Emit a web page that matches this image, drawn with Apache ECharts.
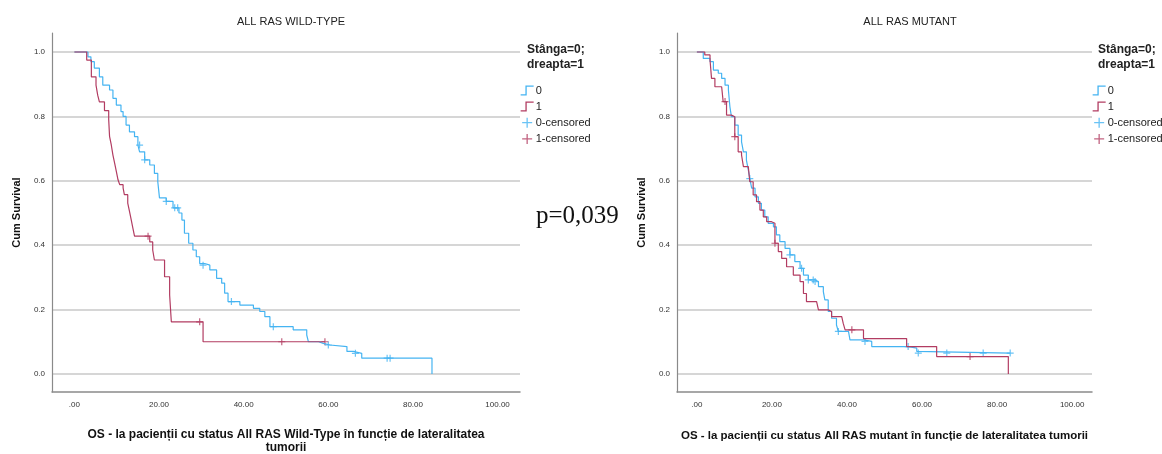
<!DOCTYPE html>
<html>
<head>
<meta charset="utf-8">
<title>OS - All RAS</title>
<script src="https://cdn.jsdelivr.net/npm/echarts@6.0.0/dist/echarts.min.js"></script>
<style>
  html, body { margin: 0; padding: 0; background: #fff; }
  #chart { width: 1162px; height: 454px; }
</style>
</head>
<body>
<div id="chart"></div>
<script>
// tick values
const xTicks = [0, 20, 40, 60, 80, 100]
const yTicks = [0, 0.2, 0.4, 0.6, 0.8, 1.0]

// ALL RAS WILD-TYPE: [months, cum survival]
const wtLeft0 = [[0, 1], [3.2, 0.985], [3.9, 0.97], [4.7, 0.95], [5.9, 0.923], [6.7, 0.897], [8.3, 0.882], [9.1, 0.856], [9.9, 0.835], [11.0, 0.815], [11.5, 0.8], [12.2, 0.773], [13.0, 0.752], [14.2, 0.737], [15.0, 0.711], [15.4, 0.69], [16.6, 0.665], [17.8, 0.649], [18.9, 0.623], [19.7, 0.597], [20.1, 0.547], [21.7, 0.536], [23.3, 0.516], [24.7, 0.5], [25.4, 0.478], [26.0, 0.437], [27.0, 0.406], [28.0, 0.385], [28.8, 0.364], [29.6, 0.343], [30.8, 0.338], [32.0, 0.323], [33.6, 0.297], [34.8, 0.282], [35.5, 0.251], [36.3, 0.225], [39.1, 0.214], [42.3, 0.204], [43.8, 0.194], [45.0, 0.178], [46.2, 0.147], [51.7, 0.137], [54.9, 0.121], [55.3, 0.1], [57.7, 0.095], [58.8, 0.09], [60.4, 0.085], [64.4, 0.07], [65.9, 0.064], [67.9, 0.049], [84.5, 0]]
const wtLeft1 = [[0, 1], [2.9, 0.975], [4.0, 0.923], [5.1, 0.897], [5.5, 0.866], [5.9, 0.845], [7.1, 0.818], [8.1, 0.79], [8.3, 0.738], [8.7, 0.712], [9.1, 0.68], [9.5, 0.655], [9.9, 0.629], [10.3, 0.603], [10.7, 0.588], [11.5, 0.578], [11.8, 0.557], [12.6, 0.531], [13.0, 0.506], [13.4, 0.48], [13.8, 0.454], [14.2, 0.428], [17.8, 0.41], [18.5, 0.385], [18.9, 0.354], [21.3, 0.302], [22.5, 0.245], [22.9, 0.162], [30.4, 0.1], [59.2, 0.1]]
const wtCens0 = [[15.4, 0.711], [16.6, 0.665], [21.7, 0.536], [23.7, 0.516], [24.4, 0.516], [30.4, 0.338], [37.1, 0.225], [47.0, 0.147], [60.0, 0.09], [66.4, 0.064], [73.9, 0.049], [74.6, 0.049]]
const wtCens1 = [[17.4, 0.428], [29.6, 0.162], [49.0, 0.1], [59.2, 0.1]]

// ALL RAS MUTANT
const mutRight0 = [[0, 1], [1.7, 0.98], [3.5, 0.97], [4.4, 0.944], [5.7, 0.934], [6.6, 0.918], [7.5, 0.897], [8.4, 0.882], [8.8, 0.83], [9.2, 0.799], [10.1, 0.773], [11.0, 0.742], [11.9, 0.721], [12.4, 0.69], [13.2, 0.664], [13.7, 0.634], [14.1, 0.607], [14.6, 0.577], [15.5, 0.55], [16.4, 0.53], [17.2, 0.509], [18.1, 0.488], [19.0, 0.468], [20.4, 0.457], [21.2, 0.432], [22.1, 0.411], [23.5, 0.39], [24.8, 0.37], [26.1, 0.349], [27.5, 0.328], [28.4, 0.307], [29.7, 0.292], [31.5, 0.287], [32.4, 0.271], [33.7, 0.256], [34.1, 0.23], [35.0, 0.194], [35.9, 0.173], [37.2, 0.152], [37.7, 0.132], [40.4, 0.127], [40.8, 0.106], [44.4, 0.101], [46.6, 0.085], [56.4, 0.08], [58.6, 0.07], [59.0, 0.065], [83.5, 0.065]]
const mutRight1 = [[0, 1], [2.1, 0.991], [3.5, 0.975], [3.9, 0.918], [4.8, 0.892], [6.6, 0.887], [7.0, 0.846], [7.9, 0.804], [9.2, 0.799], [10.1, 0.737], [11.0, 0.69], [11.9, 0.68], [12.4, 0.644], [13.7, 0.639], [14.1, 0.597], [15.0, 0.556], [15.9, 0.535], [16.8, 0.509], [17.7, 0.488], [18.6, 0.473], [19.9, 0.468], [20.8, 0.406], [21.7, 0.38], [22.6, 0.359], [23.9, 0.333], [25.7, 0.307], [27.5, 0.287], [28.4, 0.25], [29.2, 0.225], [31.9, 0.219], [32.4, 0.199], [35.0, 0.194], [35.9, 0.178], [38.6, 0.178], [39.0, 0.157], [39.5, 0.137], [44.4, 0.11], [55.9, 0.085], [63.9, 0.054], [83.0, 0]]
const mutCens0 = [[14.1, 0.607], [24.8, 0.37], [27.9, 0.328], [29.7, 0.292], [31.0, 0.292], [31.5, 0.287], [37.7, 0.132], [44.8, 0.101], [56.3, 0.085], [59.0, 0.065], [66.6, 0.065], [76.3, 0.065], [83.5, 0.065]]
const mutCens1 = [[7.5, 0.846], [10.1, 0.737], [20.8, 0.406], [41.3, 0.137], [72.8, 0.054]]

const BLUE = '#45b4f2'
const RED = '#b23c62'
const PLUS = 'path://M5,0 L5,10 M0,5 L10,5'
const STEP = 'path://M0,9 L5,9 L5,1 L12,1'

let myChart = echarts.init(document.getElementById('chart'))

function xAxisCfg (idx, name, gap, size) {
  return {
    gridIndex: idx,
    type: 'value',
    min: -5.3,
    max: 105.3,
    name: name,
    nameLocation: 'middle',
    nameGap: gap,
    nameTextStyle: { fontFamily: 'Liberation Sans', fontWeight: 'bold', fontSize: size, color: '#111', lineHeight: 13 },
    axisLine: { onZero: false, lineStyle: { color: '#8a8a8a', width: 1.5 } },
    axisTick: { show: false, customValues: xTicks },
    axisLabel: {
      customValues: xTicks,
      fontSize: 8,
      color: '#333',
      margin: 9,
      formatter: function (v) { return v === 0 ? '.00' : v.toFixed(2) }
    },
    splitLine: { show: false }
  }
}

function yAxisCfg (idx, gap) {
  return {
    gridIndex: idx,
    type: 'value',
    min: -0.056,
    max: 1.059,
    name: 'Cum Survival',
    nameLocation: 'middle',
    nameGap: gap,
    nameTextStyle: { fontFamily: 'Liberation Sans', fontWeight: 'bold', fontSize: 11, color: '#111' },
    axisLine: { show: true, onZero: false, lineStyle: { color: '#8a8a8a', width: 1.2 } },
    axisTick: { show: false, customValues: yTicks },
    axisLabel: {
      customValues: yTicks,
      fontSize: 8,
      color: '#333',
      margin: 7,
      formatter: function (v) { return v.toFixed(1) }
    },
    splitLine: { show: true, lineStyle: { color: '#d6d6d6', width: 2 } }
  }
}

function stepSeries (name, idx, data, color) {
  return {
    name: name,
    type: 'line',
    xAxisIndex: idx,
    yAxisIndex: idx,
    step: 'end',
    symbol: 'none',
    data: data,
    lineStyle: { color: color, width: 1.2 },
    itemStyle: { color: color }
  }
}

function censSeries (name, idx, data, color) {
  return {
    name: name,
    type: 'scatter',
    xAxisIndex: idx,
    yAxisIndex: idx,
    symbol: PLUS,
    symbolSize: 7,
    data: data,
    itemStyle: { color: color, borderColor: color, borderWidth: 1.2 }
  }
}

function legendCfg (left) {
  return {
    orient: 'vertical',
    left: left,
    top: 80,
    itemWidth: 13,
    itemHeight: 10,
    itemGap: 5,
    textStyle: { fontFamily: 'Liberation Sans', fontSize: 11, color: '#222', padding: [0, 0, 0, -3] },
    data: [
      { name: '0', icon: STEP, itemStyle: { color: 'rgba(0,0,0,0)', borderColor: BLUE, borderWidth: 1.3 } },
      { name: '1', icon: STEP, itemStyle: { color: 'rgba(0,0,0,0)', borderColor: RED, borderWidth: 1.3 } },
      { name: '0-censored', icon: PLUS, itemStyle: { color: 'rgba(0,0,0,0)', borderColor: BLUE, borderWidth: 1.3 } },
      { name: '1-censored', icon: PLUS, itemStyle: { color: 'rgba(0,0,0,0)', borderColor: RED, borderWidth: 1.3 } }
    ]
  }
}

const legendTitle = { fontFamily: 'Liberation Sans', fontWeight: 'bold', fontSize: 12, color: '#222', lineHeight: 15 }
const chartTitle = { fontFamily: 'Liberation Sans', fontWeight: 'normal', fontSize: 11, color: '#222' }

myChart.setOption({
  animation: false,
  backgroundColor: '#fff',
  title: [
    { text: 'ALL RAS WILD-TYPE', left: 286, top: 11, textAlign: 'center', textStyle: chartTitle },
    { text: 'ALL RAS MUTANT', left: 905, top: 11, textAlign: 'center', textStyle: chartTitle },
    { text: 'Stânga=0;\ndreapta=1', left: 522, top: 37, textStyle: legendTitle },
    { text: 'Stânga=0;\ndreapta=1', left: 1093, top: 37, textStyle: legendTitle },
    { text: 'p=0,039', left: 531, top: 199, textStyle: { fontFamily: 'Liberation Serif', fontWeight: 'normal', fontSize: 25, color: '#111' } }
  ],
  legend: [legendCfg(515), legendCfg(1087)],
  grid: [
    { left: 52, top: 33, width: 468, height: 359, outerBoundsMode: 'none' },
    { left: 677, top: 33, width: 415, height: 359, outerBoundsMode: 'none' }
  ],
  xAxis: [
    xAxisCfg(0, 'OS - la pacienții cu status All RAS Wild-Type în funcție de lateralitatea\ntumorii', 36, 12),
    xAxisCfg(1, 'OS - la pacienții cu status All RAS mutant în funcție de lateralitatea tumorii', 37, 11.5)
  ],
  yAxis: [yAxisCfg(0, 30), yAxisCfg(1, 30)],
  series: [
    stepSeries('0', 0, wtLeft0, BLUE),
    stepSeries('1', 0, wtLeft1, RED),
    censSeries('0-censored', 0, wtCens0, BLUE),
    censSeries('1-censored', 0, wtCens1, RED),
    stepSeries('0', 1, mutRight0, BLUE),
    stepSeries('1', 1, mutRight1, RED),
    censSeries('0-censored', 1, mutCens0, BLUE),
    censSeries('1-censored', 1, mutCens1, RED)
  ]
})
</script>
</body>
</html>
